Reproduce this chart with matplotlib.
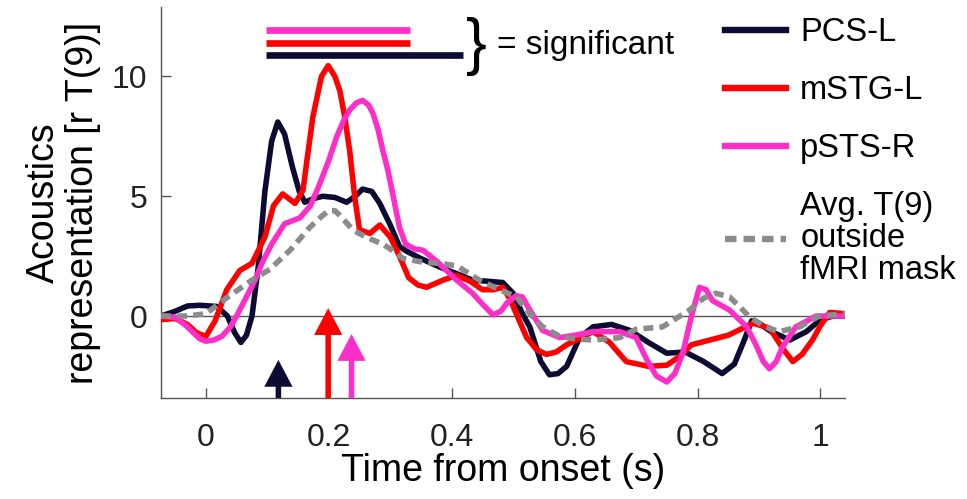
import matplotlib.pyplot as plt

plt.rcParams['font.family'] = ['Liberation Sans', 'DejaVu Sans']

# ---------- data ----------
t_pcs = [-0.073, -0.05, -0.03, -0.01, 0.018, 0.035, 0.047, 0.057, 0.066, 0.075, 0.085, 0.096,
         0.107, 0.117, 0.128, 0.141, 0.152, 0.161, 0.175, 0.19, 0.21, 0.229, 0.243, 0.255,
         0.27, 0.283, 0.3, 0.315, 0.327, 0.35, 0.38, 0.41, 0.434, 0.46, 0.483, 0.5, 0.515,
         0.527, 0.545, 0.559, 0.573, 0.587, 0.608, 0.63, 0.66, 0.69, 0.72, 0.75, 0.78, 0.81,
         0.84, 0.86, 0.876, 0.888, 0.9, 0.92, 0.95, 0.977, 1.0, 1.02, 1.04]
v_pcs = [0, 0.2, 0.42, 0.45, 0.4, 0.0, -0.7, -1.1, -0.8, 0.0, 2.0, 5.2,
         7.3, 8.1, 7.6, 6.2, 5.2, 4.75, 4.9, 5.0, 4.95, 4.75, 5.0, 5.3,
         5.2, 4.7, 3.8, 2.9, 2.7, 2.4, 2.05, 1.75, 1.5, 1.45, 1.4, 0.95, 0.1,
         -0.45, -1.9, -2.45, -2.4, -2.1, -0.9, -0.45, -0.35, -0.6, -1.1, -1.55, -1.5, -1.9,
         -2.4, -2.0, -1.0, -0.2, -0.3, -0.65, -1.0, -0.65, -0.15, 0.0, 0.0]

t_mstg = [-0.073, -0.05, -0.03, -0.015, 0.0, 0.015, 0.034, 0.055, 0.075, 0.096, 0.11, 0.125,
          0.145, 0.158, 0.166, 0.174, 0.188, 0.199, 0.21, 0.218, 0.226, 0.234, 0.242, 0.25,
          0.267, 0.283, 0.3, 0.315, 0.33, 0.345, 0.359, 0.386, 0.408, 0.43, 0.45, 0.468,
          0.483, 0.495, 0.505, 0.522, 0.538, 0.554, 0.57, 0.587, 0.63, 0.657, 0.684, 0.72,
          0.75, 0.77, 0.79, 0.82, 0.85, 0.89, 0.917, 0.94, 0.955, 0.97, 0.987, 1.0, 1.015, 1.04]
v_mstg = [-0.15, -0.1, -0.35, -0.7, -0.85, -0.2, 1.1, 1.9, 2.2, 3.3, 4.6, 5.1,
          4.7, 5.25, 6.8, 8.3, 10.0, 10.45, 10.0, 9.4, 8.3, 6.9, 5.0, 3.6,
          3.45, 3.8, 3.3, 2.5, 1.6, 1.3, 1.2, 1.5, 1.7, 1.45, 1.1, 1.1,
          1.2, 0.7, 0.1, -0.9, -1.4, -1.6, -1.5, -1.2, -0.65, -1.1, -1.9, -2.1,
          -2.05, -1.7, -1.2, -1.0, -0.8, -0.3, -0.5, -1.4, -1.9, -1.6, -1.0, -0.4, 0.15, 0.1]

t_psts = [-0.073, -0.05, -0.03, -0.01, 0.0, 0.013, 0.026, 0.04, 0.052, 0.066, 0.08, 0.093,
          0.107, 0.128, 0.153, 0.17, 0.185, 0.2, 0.213, 0.225, 0.234, 0.245, 0.255, 0.265,
          0.272, 0.28, 0.288, 0.296, 0.304, 0.315, 0.325, 0.34, 0.353, 0.375, 0.408, 0.434,
          0.45, 0.467, 0.48, 0.49, 0.505, 0.515, 0.527, 0.548, 0.576, 0.6, 0.63, 0.673,
          0.7, 0.717, 0.733, 0.75, 0.763, 0.776, 0.79, 0.803, 0.814, 0.824, 0.852, 0.88,
          0.895, 0.907, 0.917, 0.928, 0.938, 0.96, 0.993, 1.04]
v_psts = [0, -0.05, -0.45, -0.95, -1.05, -1.0, -0.85, -0.45, 0.1, 0.8, 1.5, 2.3,
          3.0, 3.85, 4.1, 4.6, 5.5, 6.5, 7.5, 8.2, 8.6, 8.9, 9.0, 8.8,
          8.45, 7.8, 6.9, 6.1, 5.1, 3.7, 3.0, 2.8, 2.75, 2.3, 1.5, 0.95,
          0.5, 0.05, 0.2, 0.55, 0.85, 0.8, 0.25, -0.6, -0.9, -0.8, -0.65, -0.65,
          -0.9, -1.8, -2.5, -2.75, -2.4, -1.55, 0.0, 1.2, 1.1, 0.65, 0.25, -0.45,
          -1.2, -1.9, -2.2, -1.9, -1.3, -0.45, 0.0, 0.0]

t_avg = [-0.073, -0.03, 0.0, 0.036, 0.075, 0.104, 0.137, 0.169, 0.19, 0.2, 0.21, 0.218,
         0.239, 0.26, 0.288, 0.3, 0.321, 0.353, 0.38, 0.408, 0.445, 0.478, 0.505, 0.527,
         0.548, 0.576, 0.6, 0.63, 0.673, 0.7, 0.743, 0.787, 0.81, 0.83, 0.852, 0.87,
         0.885, 0.91, 0.933, 0.966, 0.998, 1.04]
v_avg = [0, 0, 0.1, 0.8, 1.5, 1.95, 2.75, 3.7, 4.2, 4.4, 4.4, 4.2,
         3.6, 3.3, 3.0, 2.8, 2.4, 2.25, 2.2, 2.1, 1.5, 1.1, 0.8, 0.1,
         -0.45, -0.85, -0.95, -1.0, -0.9, -0.55, -0.45, 0.25, 0.75, 0.95, 0.8, 0.35,
         -0.05, -0.45, -0.65, -0.45, 0.0, 0.1]

labels = ['PCS-L', 'mSTG-L', 'pSTS-R', 'Avg. T(9)\noutside\nfMRI mask']
colors = ['#0b0b33', '#ff0000', '#ff2ec8', '#8c8c8c']

# significance windows (s) and the height they are drawn at
sig_start = [0.098, 0.098, 0.098]
sig_end = [0.418, 0.332, 0.332]
sig_level = [10.9, 11.4, 11.96]

# onset latencies marked by arrows
onset_t = [0.118, 0.199, 0.237]
onset_top = [-1.83, 0.33, -0.75]

xticks = [0, 0.2, 0.4, 0.6, 0.8, 1]
yticks = [0, 5, 10]
xlim = (-0.073, 1.04)
ylim = (-3.42, 12.9)

# ---------- figure ----------
fig = plt.figure(figsize=(9.67, 4.99), dpi=100)
ax = fig.add_axes([0.1665, 0.2024, 0.7074, 0.7836])

ax.axhline(0, color='#555555', lw=1.0, zorder=1)

lw = 4.0
ax.plot(t_pcs, v_pcs, color=colors[0], lw=lw, label=labels[0], solid_joinstyle='round', zorder=3)
ax.plot(t_mstg, v_mstg, color=colors[1], lw=lw, label=labels[1], solid_joinstyle='round', zorder=4)
ax.plot(t_psts, v_psts, color=colors[2], lw=lw, label=labels[2], solid_joinstyle='round', zorder=5)
ax.plot(t_avg, v_avg, color=colors[3], lw=lw, label=labels[3], dashes=(1.8, 1.1),
        dash_capstyle='butt', zorder=6)

for s, e, y, c in zip(sig_start, sig_end, sig_level, colors[:3]):
    ax.plot([s, e], [y, y], color=c, lw=4.8, solid_capstyle='butt', clip_on=False)

ax.text(0.44, 11.25, '}', fontsize=45, va='center', ha='center')
ax.text(0.473, 11.3, '= significant', fontsize=24, va='center', ha='left')

for x, top, c in zip(onset_t, onset_top, colors[:3]):
    ax.arrow(x, ylim[0], 0, top - ylim[0], width=0.009, head_width=0.046,
             head_length=1.12, length_includes_head=True, color=c, lw=0, zorder=7,
             clip_on=False)

ax.set_xlim(*xlim)
ax.set_ylim(*ylim)
ax.set_xticks(xticks)
ax.set_xticklabels(['0', '0.2', '0.4', '0.6', '0.8', '1'])
ax.set_yticks(yticks)

for side in ['top', 'right']:
    ax.spines[side].set_visible(False)
for side in ['left', 'bottom']:
    ax.spines[side].set_color('#555555')
    ax.spines[side].set_linewidth(1.0)

ax.tick_params(direction='in', length=7, width=1, color='#555555', labelsize=23,
               labelcolor='#222222')
ax.tick_params(axis='x', pad=18)
ax.tick_params(axis='y', pad=10)

ax.set_xlabel('Time from onset (s)', fontsize=27, labelpad=0)
ax.set_ylabel('Acoustics\nrepresentation [r T(9)]', fontsize=27, labelpad=8,
              linespacing=1.1)

leg = ax.legend(loc='upper left', bbox_to_anchor=(0.75, 0.965), bbox_transform=fig.transFigure,
                frameon=False, fontsize=23.5, handlelength=1.85, handletextpad=0.45,
                labelspacing=0.82, borderpad=0, borderaxespad=0)
for h in leg.get_lines():
    h.set_linewidth(4.6)
leg.get_texts()[3].set_linespacing(1.05)

fig.savefig('out.png', dpi=100)
